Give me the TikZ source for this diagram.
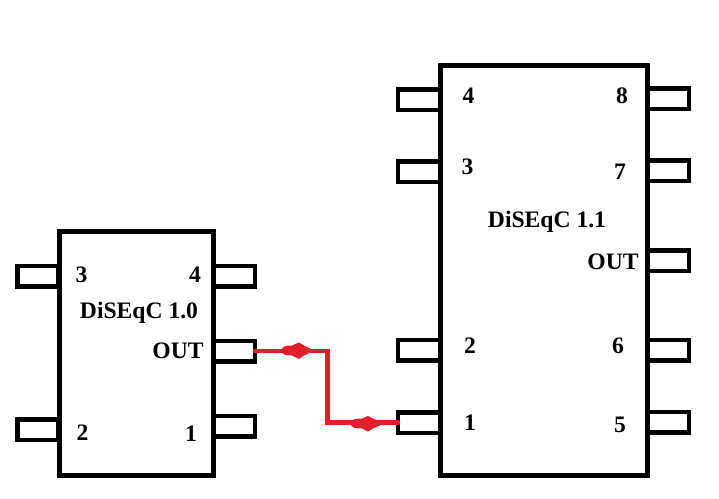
\documentclass[tikz,border=0pt]{standalone}
\usepackage{fontspec}
\setmainfont{Liberation Serif}
\definecolor{wirered}{HTML}{E01F2A}
\tikzset{
  x=1pt,y=-1pt,
  chip/.style={draw=black,line width=5pt,minimum width=#1,outer sep=0pt,inner sep=0pt},
  pin/.style={draw=black,line width=4.5pt,minimum width=39pt,minimum height=20.5pt,outer sep=0pt,inner sep=0pt},
  lbl/.style={font=\bfseries\fontsize{23.6}{24}\selectfont,inner sep=0pt,text=black},
  wire/.style={draw=wirered,line width=4.5pt},
  blob/.style={fill=wirered,draw=none}
}
\begin{document}
\begin{tikzpicture}
\useasboundingbox (0,0) rectangle (719,498);
% pins, small chip
\node[pin,minimum width=41pt] (aL3) at (38,276) {};
\node[pin,minimum width=41pt] (aL2) at (38,429.5) {};
\node[pin,minimum width=41pt] (aR4) at (234.5,276) {};
\node[pin,minimum width=41pt] (aROUT) at (234.5,351) {};
\node[pin,minimum width=41pt] (aR1) at (234.5,426) {};
% pins, large chip
\node[pin,minimum width=42pt] (bL4) at (419,99.5) {};
\node[pin,minimum width=42pt] (bL3) at (419,171.5) {};
\node[pin,minimum width=42pt] (bL2) at (419,350) {};
\node[pin,minimum width=42pt] (bL1) at (419,422.5) {};
\node[pin,minimum width=42pt] (bR8) at (668,98.5) {};
\node[pin,minimum width=42pt] (bR7) at (668,170.5) {};
\node[pin,minimum width=42pt] (bROUT) at (668,260.5) {};
\node[pin,minimum width=42pt] (bR6) at (668,350) {};
\node[pin,minimum width=42pt] (bR5) at (668,422) {};
% chips
\node[chip=154.5pt,minimum height=243.5pt,fill=white] (chipA) at (136.25,353.25) {};
\node[chip=207.5pt,minimum height=409.5pt,fill=white] (chipB) at (543.75,270.25) {};
% labels small chip
\node[lbl] (a3) at (81.5,275) {3};
\node[lbl] (a4) at (195,275) {4};
\node[lbl,anchor=base] (aT) at (139,318) {DiSEqC 1.0};
\node[lbl] (aO) at (178,351) {OUT};
\node[lbl] (a2) at (82.5,433) {2};
\node[lbl] (a1) at (191,434) {1};
% labels large chip
\node[lbl] (b4) at (468.5,96) {4};
\node[lbl] (b8) at (622,96) {8};
\node[lbl] (b3) at (467.5,167) {3};
\node[lbl] (b7) at (620,172) {7};
\node[lbl,anchor=base] (bT) at (547,227) {DiSEqC 1.1};
\node[lbl] (bO) at (613,262) {OUT};
\node[lbl] (b2) at (470,346) {2};
\node[lbl] (b6) at (618,346) {6};
\node[lbl] (b1) at (470,423) {1};
\node[lbl] (b5) at (620,425) {5};
% connector
\coordinate (bend) at (327.5,387);
\draw[wire,line cap=round] (aROUT.east) -| (bend) |- (bL1.west);
% arrow blobs
\fill[blob] (281.5,350.5) .. controls (282,346) and (286,345.5) .. (292,345.5) -- (299,342.5) -- (304,345.5) -- (314,350.5) -- (304,355.5) -- (299,359) -- (292,355.5) .. controls (286,355.5) and (282,355) .. (281.5,350.5) -- cycle;
\fill[blob] (350.5,423.5) .. controls (351,419) and (356,418.5) .. (362,418.5) -- (368,416) -- (373,418.5) -- (384,423.5) -- (373,428.5) -- (368,431.5) -- (362,428.5) .. controls (356,428.5) and (351,428) .. (350.5,423.5) -- cycle;
\end{tikzpicture}
\end{document}
